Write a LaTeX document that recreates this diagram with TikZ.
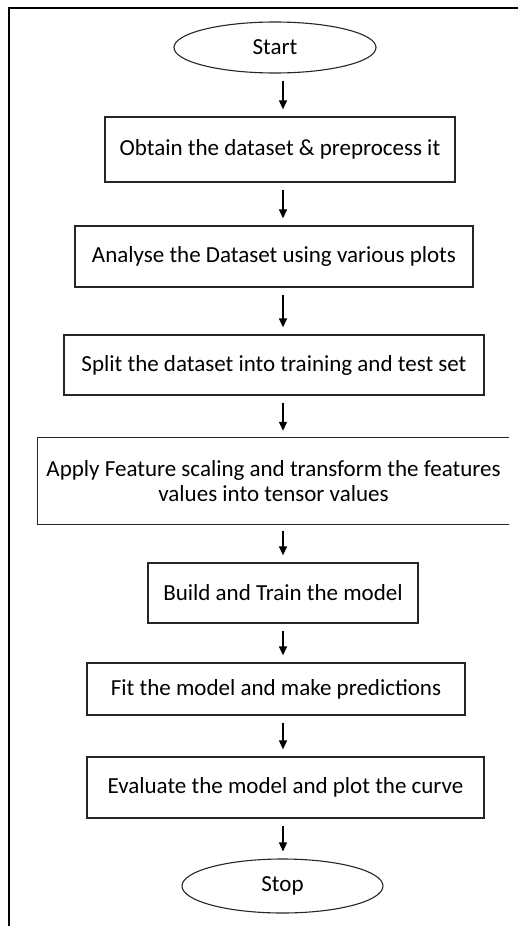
\documentclass[tikz,border=0pt]{standalone}
\usepackage{fontspec}
\setmainfont{Carlito}
\usetikzlibrary{shapes.geometric,arrows.meta}
\begin{document}
\begin{tikzpicture}[x=1pt,y=-1pt,
  txt/.style={font=\fontsize{23}{25}\selectfont, align=center, inner sep=0pt},
  stepbox/.style={txt, draw=black!85, line width=1.3pt},
  terminal/.style={txt, ellipse, draw=black!85, line width=1.1pt},
  flow/.style={-{Triangle[length=9pt,width=8pt]}, line width=1.3pt, shorten <=7pt, shorten >=7pt}]
  \useasboundingbox (0,0) rectangle (518,926);
  % outer frame (open to the right and bottom)
  \draw[line width=2pt] (9,926) -- (9,8) -- (518,8);
  \coordinate (axis) at (283,0);

  \node[terminal, minimum width=202pt, minimum height=51pt] (start) at (275,47.5) {Start};
  \node[stepbox, minimum width=350pt, minimum height=65pt] (b1) at (280,149.5) {Obtain the dataset \& preprocess it};
  \node[stepbox, minimum width=398pt, minimum height=61pt] (b2) at (274,256.5) {Analyse the Dataset using various plots};
  \node[stepbox, minimum width=420pt, minimum height=60pt] (b3) at (274,365) {Split the dataset into training and test set};
  \node[txt, minimum width=471pt, minimum height=86pt] (b4) at (273.5,481) {Apply Feature scaling and transform the features\\values into tensor values};
  \draw[black!85, line width=1.3pt] (b4.north east) -- (b4.north west) -- (b4.south west) -- (b4.south east);
  \node[stepbox, minimum width=270pt, minimum height=60pt] (b5) at (283,593) {Build and Train the model};
  \node[stepbox, minimum width=378pt, minimum height=52pt] (b6) at (276,689) {Fit the model and make predictions};
  \node[stepbox, minimum width=397pt, minimum height=61pt] (b7) at (285.5,787.5) {Evaluate the model and plot the curve};
  \node[terminal, minimum width=201pt, minimum height=54pt] (stop) at (282.5,886) {Stop};

  \foreach \a/\b in {start/b1,b1/b2,b2/b3,b3/b4,b4/b5,b5/b6,b6/b7,b7/stop}
    \draw[flow] (\a.south -| axis) -- (\b.north -| axis);
\end{tikzpicture}
\end{document}
